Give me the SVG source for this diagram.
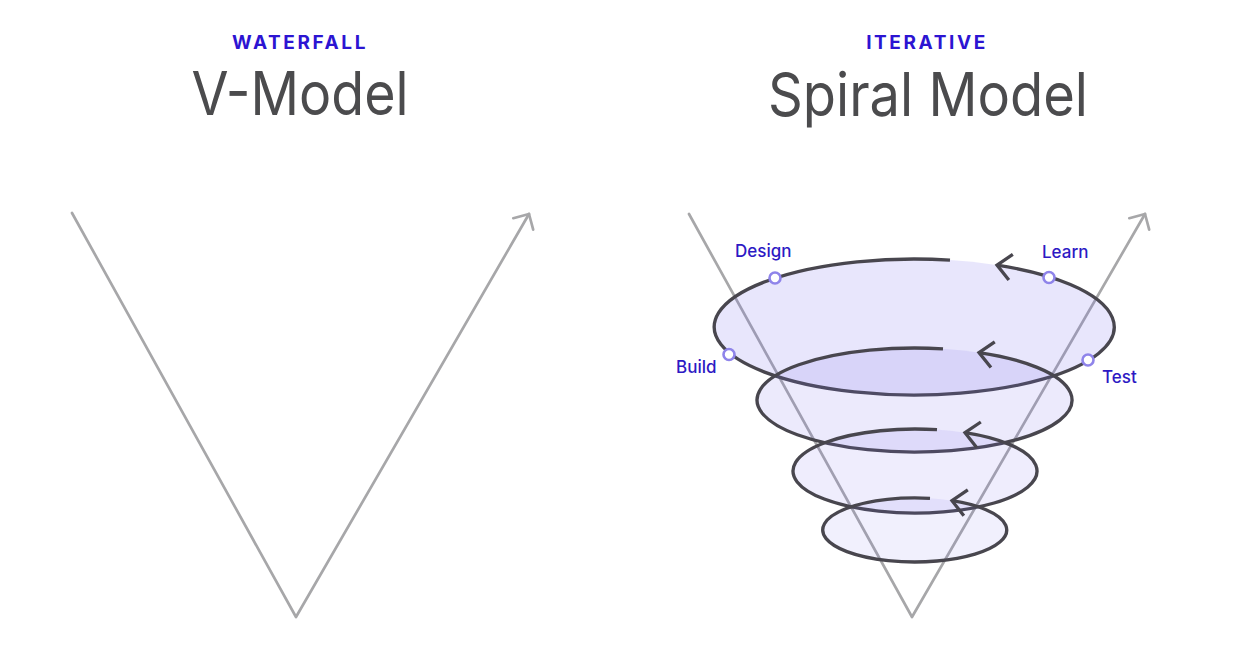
<svg xmlns="http://www.w3.org/2000/svg" width="1236" height="648" viewBox="0 0 1236 648">
  <style>
    .kicker { font-family: Inter, "Liberation Sans", sans-serif; font-weight: 700; font-size: 19px; letter-spacing: 2.6px; fill: #2c14d2; text-anchor: middle; }
    .title { font-family: Inter, "Liberation Sans", sans-serif; font-weight: 400; font-size: 60px; fill: #4b4b4d; text-anchor: middle; }
    .label { font-family: Inter, "Liberation Sans", sans-serif; font-weight: 500; font-size: 17px; fill: #2d19c4; }
    .vline { fill: none; stroke: #a7a7a9; stroke-width: 2.7; stroke-linecap: round; stroke-linejoin: round; }
    .loop { stroke: #48464e; stroke-width: 3.3; fill: none; stroke-linecap: butt; }
    .dot { fill: #ffffff; stroke: #8f84ea; stroke-width: 2.6; }
  </style>
  <defs>
    <marker id="grayArrow" markerUnits="userSpaceOnUse" markerWidth="40" markerHeight="40" viewBox="-20 -20 40 40" refX="0" refY="0" orient="auto" overflow="visible">
      <path d="M -11.5 -11.5 L 0 0 L -11.5 11.5" fill="none" stroke="#a7a7a9" stroke-width="2.7" stroke-linecap="round" stroke-linejoin="round"/>
    </marker>
    <marker id="darkArrow" markerUnits="userSpaceOnUse" markerWidth="40" markerHeight="40" viewBox="-20 -20 40 40" refX="0" refY="0" orient="auto" overflow="visible">
      <path d="M -14 -13 L 0 0 L -14 13" fill="none" stroke="#48464e" stroke-width="3.3" stroke-linecap="butt" stroke-linejoin="miter"/>
    </marker>
  </defs>

  <g id="header-waterfall">
    <text class="kicker" x="300" y="49">WATERFALL</text>
    <text class="title" x="300" y="115" textLength="217" lengthAdjust="spacingAndGlyphs">V-Model</text>
  </g>
  <g id="header-iterative">
    <text class="kicker" x="927" y="49">ITERATIVE</text>
    <text class="title" x="928" y="116" textLength="320" lengthAdjust="spacingAndGlyphs">Spiral Model</text>
  </g>

  <g id="connectors">
    <polyline class="vline" points="72,213 296,617 529,214" marker-end="url(#grayArrow)"/>
    <polyline class="vline" points="689,214 912,617 1145,214" marker-end="url(#grayArrow)"/>
  </g>

  <g id="spiral">
    <g id="loop-1">
      <ellipse cx="914" cy="327" rx="200" ry="68" fill="#7869eb" fill-opacity="0.17"/>
      <path class="loop" d="M 950 260.1 A 200 68 0 1 0 997 265.1" marker-end="url(#darkArrow)"/>
    </g>
    <g id="loop-2">
      <ellipse cx="914.5" cy="400" rx="157.5" ry="52" fill="#7869eb" fill-opacity="0.14"/>
      <path class="loop" d="M 943 348.9 A 157.5 52 0 1 0 979 352.6" marker-end="url(#darkArrow)"/>
    </g>
    <g id="loop-3">
      <ellipse cx="915" cy="471" rx="122" ry="42" fill="#7869eb" fill-opacity="0.12"/>
      <path class="loop" d="M 937 429.7 A 122 42 0 1 0 965 432.7" marker-end="url(#darkArrow)"/>
    </g>
    <g id="loop-4">
      <ellipse cx="915" cy="530" rx="92" ry="32" fill="#7869eb" fill-opacity="0.1"/>
      <path class="loop" d="M 930 498.4 A 92 32 0 1 0 952 500.7" marker-end="url(#darkArrow)"/>
    </g>
  </g>

  <g id="node-design">
    <circle class="dot" cx="775" cy="278" r="5.5"/>
    <text class="label" x="735" y="257">Design</text>
  </g>
  <g id="node-learn">
    <circle class="dot" cx="1049" cy="277.5" r="5.5"/>
    <text class="label" x="1042" y="258">Learn</text>
  </g>
  <g id="node-build">
    <circle class="dot" cx="729" cy="354.5" r="5.5"/>
    <text class="label" x="676" y="373">Build</text>
  </g>
  <g id="node-test">
    <circle class="dot" cx="1088" cy="360" r="5.5"/>
    <text class="label" x="1102" y="383">Test</text>
  </g>
</svg>
